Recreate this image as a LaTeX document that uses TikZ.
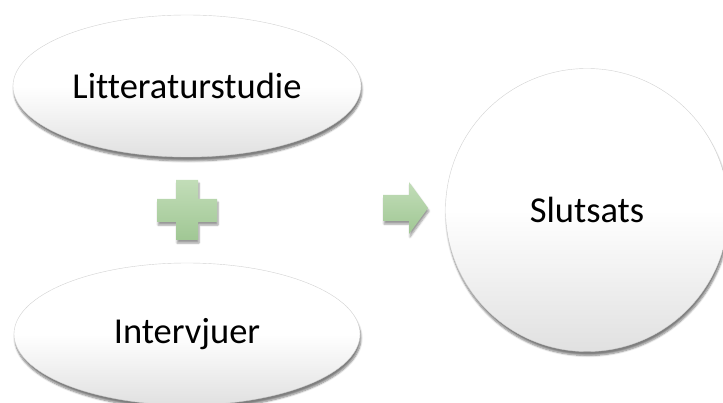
\documentclass[tikz,border=0pt]{standalone}
\usepackage{fontspec}
\setmainfont[Ligatures=NoCommon]{Carlito}
\usetikzlibrary{shapes.geometric,shadows.blur}
\definecolor{gtop}{RGB}{194,221,184}
\definecolor{gbot}{RGB}{160,199,148}
\definecolor{edgegray}{RGB}{210,210,210}
\tikzset{
  bubble/.style={ellipse, draw=edgegray, line width=0.4pt, top color=white, bottom color=black!12,
    middle color=white, shading angle=0, inner sep=0pt,
    blur shadow={shadow xshift=1pt, shadow yshift=-4pt, shadow blur steps=6, shadow opacity=50},
    font=\fontsize{36.5}{42}\selectfont},
  greenshape/.style={draw=none, top color=gtop, bottom color=gbot,
    blur shadow={shadow xshift=1pt, shadow yshift=-3pt, shadow blur steps=5, shadow opacity=40}}
}
\begin{document}
\begin{tikzpicture}[x=1pt,y=1pt]
\useasboundingbox (0,0) rectangle (723,-403);
\node[bubble, minimum width=348pt, minimum height=142pt] (lit) at (187,-86) {Litteraturstudie};
\node[bubble, minimum width=346pt, minimum height=142pt] (int) at (187,-334) {Intervjuer};
\node[bubble, circle, minimum size=283pt] (slut) at (587,-210) {Slutsats};
% plus sign
\path[greenshape] (176,-180) -- (198,-180) -- (198,-199) -- (217,-199) -- (217,-222) -- (198,-222)
  -- (198,-240) -- (176,-240) -- (176,-222) -- (157,-222) -- (157,-199) -- (176,-199) -- cycle;
% arrow
\path[greenshape] (383,-195) -- (409,-195) -- (409,-182) -- (428,-208) -- (409,-234) -- (409,-221)
  -- (383,-221) -- cycle;
\end{tikzpicture}
\end{document}
